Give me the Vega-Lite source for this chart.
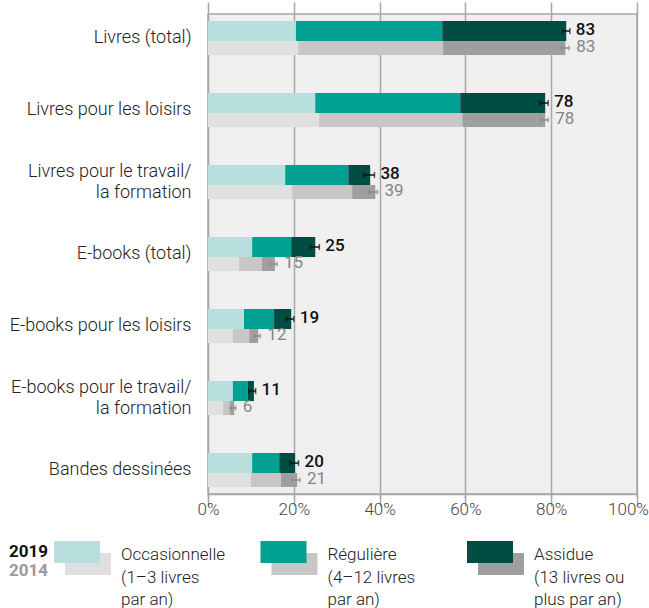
{
  "$schema": "https://vega.github.io/schema/vega-lite/v6.json",
  "padding": {"left": 8, "top": 13, "right": 3, "bottom": 0},
  "config": {
    "font": "Roboto",
    "view": {"fill": "#efefef", "stroke": "#a8a8a8", "strokeWidth": 1.5}
  },
  "datasets": {
    "bars": [
      {"cat": "Livres (total)", "year": 2019, "seg": "Occasionnelle", "lo": 0, "hi": 20.5},
      {"cat": "Livres (total)", "year": 2019, "seg": "Régulière", "lo": 20.5, "hi": 54.6},
      {"cat": "Livres (total)", "year": 2019, "seg": "Assidue", "lo": 54.6, "hi": 83.5},
      {"cat": "Livres (total)", "year": 2014, "seg": "Occasionnelle", "lo": 0, "hi": 21.0},
      {"cat": "Livres (total)", "year": 2014, "seg": "Régulière", "lo": 21.0, "hi": 54.8},
      {"cat": "Livres (total)", "year": 2014, "seg": "Assidue", "lo": 54.8, "hi": 83.3},
      {"cat": "Livres pour les loisirs", "year": 2019, "seg": "Occasionnelle", "lo": 0, "hi": 25.0},
      {"cat": "Livres pour les loisirs", "year": 2019, "seg": "Régulière", "lo": 25.0, "hi": 58.8},
      {"cat": "Livres pour les loisirs", "year": 2019, "seg": "Assidue", "lo": 58.8, "hi": 78.6},
      {"cat": "Livres pour les loisirs", "year": 2014, "seg": "Occasionnelle", "lo": 0, "hi": 25.9},
      {"cat": "Livres pour les loisirs", "year": 2014, "seg": "Régulière", "lo": 25.9, "hi": 59.3},
      {"cat": "Livres pour les loisirs", "year": 2014, "seg": "Assidue", "lo": 59.3, "hi": 78.6},
      {"cat": "Livres pour le travail/\nla formation", "year": 2019, "seg": "Occasionnelle", "lo": 0, "hi": 18.0},
      {"cat": "Livres pour le travail/\nla formation", "year": 2019, "seg": "Régulière", "lo": 18.0, "hi": 32.7},
      {"cat": "Livres pour le travail/\nla formation", "year": 2019, "seg": "Assidue", "lo": 32.7, "hi": 37.8},
      {"cat": "Livres pour le travail/\nla formation", "year": 2014, "seg": "Occasionnelle", "lo": 0, "hi": 19.6},
      {"cat": "Livres pour le travail/\nla formation", "year": 2014, "seg": "Régulière", "lo": 19.6, "hi": 33.6},
      {"cat": "Livres pour le travail/\nla formation", "year": 2014, "seg": "Assidue", "lo": 33.6, "hi": 39.0},
      {"cat": "E-books (total)", "year": 2019, "seg": "Occasionnelle", "lo": 0, "hi": 10.3},
      {"cat": "E-books (total)", "year": 2019, "seg": "Régulière", "lo": 10.3, "hi": 19.4},
      {"cat": "E-books (total)", "year": 2019, "seg": "Assidue", "lo": 19.4, "hi": 25.0},
      {"cat": "E-books (total)", "year": 2014, "seg": "Occasionnelle", "lo": 0, "hi": 7.2},
      {"cat": "E-books (total)", "year": 2014, "seg": "Régulière", "lo": 7.2, "hi": 12.6},
      {"cat": "E-books (total)", "year": 2014, "seg": "Assidue", "lo": 12.6, "hi": 15.6},
      {"cat": "E-books pour les loisirs", "year": 2019, "seg": "Occasionnelle", "lo": 0, "hi": 8.4},
      {"cat": "E-books pour les loisirs", "year": 2019, "seg": "Régulière", "lo": 8.4, "hi": 15.4},
      {"cat": "E-books pour les loisirs", "year": 2019, "seg": "Assidue", "lo": 15.4, "hi": 19.4},
      {"cat": "E-books pour les loisirs", "year": 2014, "seg": "Occasionnelle", "lo": 0, "hi": 5.8},
      {"cat": "E-books pour les loisirs", "year": 2014, "seg": "Régulière", "lo": 5.8, "hi": 9.6},
      {"cat": "E-books pour les loisirs", "year": 2014, "seg": "Assidue", "lo": 9.6, "hi": 11.7},
      {"cat": "E-books pour le travail/\nla formation", "year": 2019, "seg": "Occasionnelle", "lo": 0, "hi": 5.8},
      {"cat": "E-books pour le travail/\nla formation", "year": 2019, "seg": "Régulière", "lo": 5.8, "hi": 9.3},
      {"cat": "E-books pour le travail/\nla formation", "year": 2019, "seg": "Assidue", "lo": 9.3, "hi": 10.7},
      {"cat": "E-books pour le travail/\nla formation", "year": 2014, "seg": "Occasionnelle", "lo": 0, "hi": 3.5},
      {"cat": "E-books pour le travail/\nla formation", "year": 2014, "seg": "Régulière", "lo": 3.5, "hi": 5.1},
      {"cat": "E-books pour le travail/\nla formation", "year": 2014, "seg": "Assidue", "lo": 5.1, "hi": 6.1},
      {"cat": "Bandes dessinées", "year": 2019, "seg": "Occasionnelle", "lo": 0, "hi": 10.3},
      {"cat": "Bandes dessinées", "year": 2019, "seg": "Régulière", "lo": 10.3, "hi": 16.6},
      {"cat": "Bandes dessinées", "year": 2019, "seg": "Assidue", "lo": 16.6, "hi": 20.3},
      {"cat": "Bandes dessinées", "year": 2014, "seg": "Occasionnelle", "lo": 0, "hi": 10.0},
      {"cat": "Bandes dessinées", "year": 2014, "seg": "Régulière", "lo": 10.0, "hi": 17.0},
      {"cat": "Bandes dessinées", "year": 2014, "seg": "Assidue", "lo": 17.0, "hi": 20.8}
    ],
    "totals": [
      {"cat": "Livres (total)", "year": 2019, "label": 83, "elo": 82.65, "ehi": 84.35},
      {"cat": "Livres pour les loisirs", "year": 2019, "label": 78, "elo": 77.3, "ehi": 79.3},
      {"cat": "Livres pour le travail/\nla formation", "year": 2019, "label": 38, "elo": 36.4, "ehi": 38.8},
      {"cat": "E-books (total)", "year": 2019, "label": 25, "elo": 23.85, "ehi": 25.95},
      {"cat": "E-books pour les loisirs", "year": 2019, "label": 19, "elo": 18.2, "ehi": 20.0},
      {"cat": "E-books pour le travail/\nla formation", "year": 2019, "label": 11, "elo": 9.5, "ehi": 11.1},
      {"cat": "Bandes dessinées", "year": 2019, "label": 20, "elo": 19.1, "ehi": 21.1},
      {"cat": "Livres (total)", "year": 2014, "label": 83, "elo": 82.4, "ehi": 84.2},
      {"cat": "Livres pour les loisirs", "year": 2014, "label": 78, "elo": 77.5, "ehi": 79.3},
      {"cat": "Livres pour le travail/\nla formation", "year": 2014, "label": 39, "elo": 37.5, "ehi": 39.5},
      {"cat": "E-books (total)", "year": 2014, "label": 15, "elo": 14.5, "ehi": 16.1},
      {"cat": "E-books pour les loisirs", "year": 2014, "label": 12, "elo": 10.8, "ehi": 12.2},
      {"cat": "E-books pour le travail/\nla formation", "year": 2014, "label": 6, "elo": 5.15, "ehi": 6.45},
      {"cat": "Bandes dessinées", "year": 2014, "label": 21, "elo": 19.55, "ehi": 21.45}
    ],
    "legend": [
      {"seg": "Occasionnelle", "desc": "Occasionnelle\n(1–3 livres\npar an)"},
      {"seg": "Régulière", "desc": "Régulière\n(4–12 livres\npar an)"},
      {"seg": "Assidue", "desc": "Assidue\n(13 livres ou\nplus par an)"}
    ]
  },
  "spacing": 22,
  "vconcat": [
    {
      "width": 429,
      "height": 480,
      "encoding": {
        "y": {
          "field": "cat",
          "type": "nominal",
          "title": null,
          "scale": {
            "domain": ["Livres (total)", "Livres pour les loisirs", "Livres pour le travail/\nla formation", "E-books (total)", "E-books pour les loisirs", "E-books pour le travail/\nla formation", "Bandes dessinées"],
            "range": [-12, 492],
            "paddingInner": 0,
            "paddingOuter": 0
          },
          "axis": {
            "title": null,
            "domain": false,
            "ticks": false,
            "grid": false,
            "labelPadding": 17,
            "labelFontSize": 18,
            "labelFontWeight": 300,
            "labelColor": "#222222",
            "labelLimit": 300,
            "minExtent": 199,
            "labelLineHeight": 20.5,
            "labelOffset": {"condition": {"test": "indexof(datum.value, '\\n') >= 0", "value": -10}, "value": 0},
            "labelExpr": "split(datum.label, '\\n')"
          }
        }
      },
      "layer": [
        {
          "data": {"name": "bars"},
          "transform": [{"filter": "datum.year == 2014"}],
          "mark": {"type": "bar", "height": 14, "yOffset": 10},
          "encoding": {
            "x": {
              "field": "lo", "type": "quantitative", "title": null,
              "scale": {"domain": [0, 100]},
              "axis": {
                "values": [0, 20, 40, 60, 80, 100],
                "labelExpr": "datum.value + '%'",
                "grid": true, "gridColor": "#a8a8a8", "gridWidth": 1.5,
                "domainColor": "#a8a8a8", "domainWidth": 1.5,
                "tickColor": "#a8a8a8", "tickSize": 4, "tickWidth": 1.5,
                "labelFontSize": 17, "labelFontWeight": 300, "labelColor": "#444444", "labelPadding": 3,
                "labelFlush": false,
                "labelOffset": {"condition": {"test": "datum.value == 100", "value": -9}, "value": 0}
              }
            },
            "x2": {"field": "hi"},
            "color": {
              "field": "seg", "type": "nominal", "legend": null,
              "scale": {"domain": ["Occasionnelle", "Régulière", "Assidue"], "range": ["#dfe0df", "#c6c7c6", "#9f9f9f"]}
            }
          }
        },
        {
          "data": {"name": "bars"},
          "transform": [{"filter": "datum.year == 2019"}],
          "mark": {"type": "bar", "height": 20, "yOffset": -7},
          "encoding": {
            "x": {"field": "lo", "type": "quantitative", "title": null},
            "x2": {"field": "hi"},
            "color": {
              "field": "seg", "type": "nominal", "legend": null,
              "scale": {"domain": ["Occasionnelle", "Régulière", "Assidue"], "range": ["#b8dfdd", "#00a092", "#004d43"]}
            }
          }
        },
        {
          "data": {"name": "totals"},
          "transform": [{"filter": "datum.year == 2019"}],
          "mark": {"type": "rule", "color": "#111111", "strokeWidth": 1.5, "yOffset": -7},
          "encoding": {"x": {"field": "elo", "type": "quantitative", "title": null}, "x2": {"field": "ehi"}}
        },
        {
          "data": {"name": "totals"},
          "transform": [{"filter": "datum.year == 2019"}],
          "mark": {"type": "tick", "color": "#111111", "size": 6, "thickness": 1.5, "yOffset": -7},
          "encoding": {"x": {"field": "elo", "type": "quantitative", "title": null}}
        },
        {
          "data": {"name": "totals"},
          "transform": [{"filter": "datum.year == 2019"}],
          "mark": {"type": "tick", "color": "#111111", "size": 6, "thickness": 1.5, "yOffset": -7},
          "encoding": {"x": {"field": "ehi", "type": "quantitative", "title": null}}
        },
        {
          "data": {"name": "totals"},
          "transform": [{"filter": "datum.year == 2014"}],
          "mark": {"type": "rule", "color": "#8a8a8a", "strokeWidth": 1.5, "yOffset": 10},
          "encoding": {"x": {"field": "elo", "type": "quantitative", "title": null}, "x2": {"field": "ehi"}}
        },
        {
          "data": {"name": "totals"},
          "transform": [{"filter": "datum.year == 2014"}],
          "mark": {"type": "tick", "color": "#8a8a8a", "size": 5, "thickness": 1.5, "yOffset": 10},
          "encoding": {"x": {"field": "elo", "type": "quantitative", "title": null}}
        },
        {
          "data": {"name": "totals"},
          "transform": [{"filter": "datum.year == 2014"}],
          "mark": {"type": "tick", "color": "#8a8a8a", "size": 5, "thickness": 1.5, "yOffset": 10},
          "encoding": {"x": {"field": "ehi", "type": "quantitative", "title": null}}
        },
        {
          "data": {"name": "totals"},
          "transform": [{"filter": "datum.year == 2019"}],
          "mark": {"type": "text", "align": "left", "baseline": "middle", "dx": 6, "dy": -8, "fontSize": 17, "fontWeight": 500, "color": "#111111"},
          "encoding": {"x": {"field": "ehi", "type": "quantitative", "title": null}, "text": {"field": "label"}}
        },
        {
          "data": {"name": "totals"},
          "transform": [{"filter": "datum.year == 2014"}],
          "mark": {"type": "text", "align": "left", "baseline": "middle", "dx": 7, "dy": 9, "fontSize": 17, "color": "#858585"},
          "encoding": {"x": {"field": "ehi", "type": "quantitative", "title": null}, "text": {"field": "label"}}
        }
      ],
      "resolve": {"scale": {"color": "independent"}}
    },
    {
      "width": 429,
      "height": 24,
      "view": {"stroke": null, "fill": null},
      "data": {"name": "legend"},
      "encoding": {
        "x": {
          "field": "seg", "type": "nominal", "axis": null,
          "scale": {"type": "point", "domain": ["Occasionnelle", "Régulière", "Assidue"], "range": [-131, 282], "padding": 0}
        }
      },
      "layer": [
        {
          "mark": {"type": "bar", "width": 46, "height": 22, "xOffset": 11},
          "encoding": {
            "y": {"datum": "2014", "type": "nominal", "axis": null, "scale": {"type": "point", "domain": ["2019", "2014"], "padding": 0.5}},
            "color": {
              "field": "seg", "type": "nominal", "legend": null,
              "scale": {"domain": ["Occasionnelle", "Régulière", "Assidue"], "range": ["#dfe0df", "#c6c7c6", "#9f9f9f"]}
            }
          }
        },
        {
          "mark": {"type": "bar", "width": 46, "height": 22},
          "encoding": {
            "y": {"datum": "2019", "type": "nominal"},
            "color": {
              "field": "seg", "type": "nominal", "legend": null,
              "scale": {"domain": ["Occasionnelle", "Régulière", "Assidue"], "range": ["#b8dfdd", "#00a092", "#004d43"]}
            }
          }
        },
        {
          "mark": {"type": "text", "align": "left", "baseline": "top", "dx": 44, "dy": -5, "fontSize": 17, "fontWeight": 300, "lineHeight": 22.5, "lineBreak": "\n", "color": "#222222"},
          "encoding": {
            "y": {"datum": "2019", "type": "nominal"},
            "text": {"field": "desc"}
          }
        },
        {
          "data": {"values": [{"year": "2019"}]},
          "mark": {"type": "text", "align": "left", "baseline": "middle", "dx": -68, "dy": 0, "fontSize": 17, "fontWeight": "bold", "color": "#111111"},
          "encoding": {
            "x": {"datum": "Occasionnelle", "type": "nominal"},
            "y": {"datum": "2019", "type": "nominal"},
            "text": {"field": "year"}
          }
        },
        {
          "data": {"values": [{"year": "2014"}]},
          "mark": {"type": "text", "align": "left", "baseline": "middle", "dx": -68, "dy": 7, "fontSize": 17, "fontWeight": "bold", "color": "#9a9a9a"},
          "encoding": {
            "x": {"datum": "Occasionnelle", "type": "nominal"},
            "y": {"datum": "2014", "type": "nominal"},
            "text": {"field": "year"}
          }
        }
      ],
      "resolve": {"scale": {"color": "independent"}}
    }
  ],
  "resolve": {"scale": {"color": "independent"}}
}
